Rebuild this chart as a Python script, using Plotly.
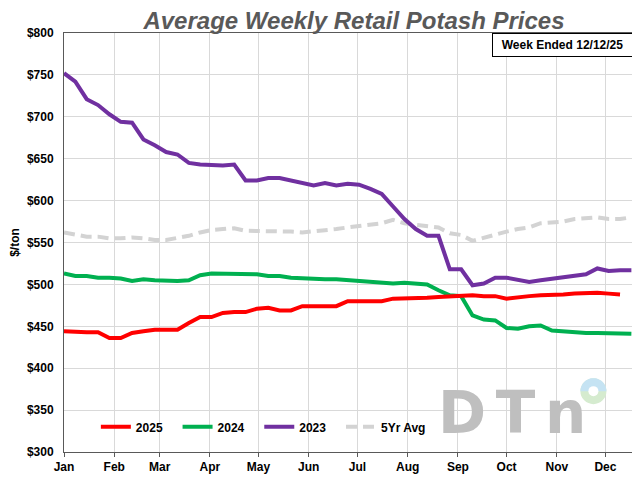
import numpy as np
import pandas as pd
import plotly.graph_objects as go

# Weekly dates (plotted on a common Jan-Dec axis)
weeks = pd.date_range("2025-01-01", periods=51, freq="7D")

price_2025 = [444, 443, 443, 443, 436, 436, 442, 444, 446, 446, 446, 454, 461, 461, 466, 467, 467,
              471, 472, 469, 469, 474, 474, 474, 474, 480, 480, 480, 480, 483, 483, 484, 484, 485,
              486, 486, 487, 486, 486, 483, 485, 486, 487, 487, 488, 489, 490, 490, 489, 488]
price_2024 = [513, 510, 510, 508, 508, 507, 504, 506, 505, 504, 504, 505, 511, 513, 513, 513, 512,
              512, 510, 510, 508, 507, 507, 506, 506, 505, 505, 503, 502, 501, 502, 501, 500, 493,
              487, 486, 463, 458, 457, 448, 447, 450, 451, 445, 444, 442, 442, 442, 442, 442, 441]
price_2023 = [752, 742, 721, 714, 703, 694, 693, 673, 666, 658, 655, 645, 643, 642, 642, 643, 624,
              624, 627, 627, 624, 620, 618, 621, 618, 620, 619, 614, 608, 593, 578, 566, 558, 558,
              518, 518, 499, 501, 508, 508, 506, 503, 505, 507, 509, 510, 512, 519, 516, 517, 517]
price_5yr = [562, 559, 557, 557, 555, 555, 556, 555, 553, 553, 555, 558, 562, 565, 566, 567, 564,
             564, 564, 563, 563, 562, 563, 564, 566, 568, 570, 571, 573, 577, 573, 571, 570, 568,
             561, 559, 552, 556, 560, 563, 566, 568, 573, 574, 575, 578, 579, 580, 578, 578, 580]

y_ticks = [300, 350, 400, 450, 500, 550, 600, 650, 700, 750, 800]
y_tick_labels = ["$" + str(v) for v in y_ticks]

FONT = "Liberation Sans, Arial, sans-serif"
W, H = 632, 472  # page adds an 8px body margin
PAD = "\u00a0\u00a0\u00a0"

fig = go.Figure()
fig.add_trace(go.Scatter(x=weeks, y=price_5yr, name="5Yr Avg", mode="lines", legendrank=4,
                         line=dict(color="#D3D3D3", width=4, dash="11px,6px")))
fig.add_trace(go.Scatter(x=weeks, y=price_2023, name="2023" + PAD, mode="lines", legendrank=3,
                         line=dict(color="#7030A0", width=4)))
fig.add_trace(go.Scatter(x=weeks, y=price_2024, name="2024" + PAD, mode="lines", legendrank=2,
                         line=dict(color="#00B050", width=4)))
fig.add_trace(go.Scatter(x=weeks[:len(price_2025)], y=price_2025, name="2025" + PAD, mode="lines",
                         legendrank=1, line=dict(color="#FF0000", width=4)))

fig.update_layout(
    width=W, height=H,
    margin=dict(l=51, r=6, t=25, b=27),
    paper_bgcolor="white", plot_bgcolor="white",
    font=dict(family=FONT, size=12, color="black"),
    title=dict(text="Average Weekly Retail Potash Prices", x=346 / W, xref="container",
               y=1 - 13 / H, yref="container", yanchor="middle", xanchor="center",
               font=dict(family=FONT, size=24, color="#595959", weight="bold", style="italic")),
    showlegend=True,
    legend=dict(orientation="h", x=0.056, xanchor="left", y=0.06, yanchor="middle",
                bgcolor="rgba(0,0,0,0)", font=dict(family=FONT, size=12, color="black", weight="bold"),
                traceorder="normal"),
    xaxis=dict(range=["2025-01-01", "2025-12-18"], dtick="M1", tick0="2025-01-01",
               tickformat="%b", showgrid=True, gridcolor="#D9D9D9", gridwidth=1,
               showline=True, linecolor="#595959", linewidth=1, mirror=True,
               ticks="outside", ticklen=4, tickcolor="#595959",
               tickfont=dict(family=FONT, size=12, color="black", weight="bold")),
    yaxis=dict(range=[300, 800], tickvals=y_ticks, ticktext=y_tick_labels,
               showgrid=True, gridcolor="#D9D9D9", gridwidth=1,
               showline=True, linecolor="#595959", linewidth=1, mirror=True,
               ticks="", zeroline=False, ticklabelstandoff=7,
               title=dict(text="$/ton", standoff=4,
                          font=dict(family=FONT, size=12, color="black", weight="bold")),
               tickfont=dict(family=FONT, size=12, color="black", weight="bold")),
)

fig.add_annotation(text="Week Ended 12/12/25", xref="paper", yref="paper", x=1, y=1,
                   xanchor="right", yanchor="top", showarrow=False, width=131, height=14,
                   borderpad=4, bordercolor="black", borderwidth=1, bgcolor="white",
                   font=dict(family=FONT, size=12, color="black", weight="bold"))

# DTN watermark logo
fig.add_annotation(text="D\u2006T\u2006n", xref="paper", yref="paper", x=(435 - 59) / 575,
                   y=(453 - 414) / 420, xanchor="left", yanchor="middle", showarrow=False,
                   font=dict(family="DejaVu Sans", size=58, color="#BFBFBF", weight="bold"))
ax, ay = (594 - 59) / 575, (453 - 392) / 420
fig.add_shape(type="circle", xref="paper", yref="paper", xsizemode="pixel", ysizemode="pixel",
              xanchor=ax, yanchor=ay, x0=-13, x1=13, y0=-13, y1=13,
              fillcolor="#D5EBCF", line=dict(width=0))
ang = np.linspace(0, np.pi, 25)
half = "M " + " L ".join(f"{13*np.cos(a):.2f},{13*np.sin(a):.2f}" for a in ang) + " Z"
fig.add_shape(type="path", xref="paper", yref="paper", xsizemode="pixel", ysizemode="pixel",
              xanchor=ax, yanchor=ay, path=half, fillcolor="#C5E3F3", line=dict(width=0))
fig.add_shape(type="circle", xref="paper", yref="paper", xsizemode="pixel", ysizemode="pixel",
              xanchor=ax, yanchor=ay, x0=-5, x1=5, y0=-5, y1=5,
              fillcolor="white", line=dict(width=0))

fig.write_html("out.html")
